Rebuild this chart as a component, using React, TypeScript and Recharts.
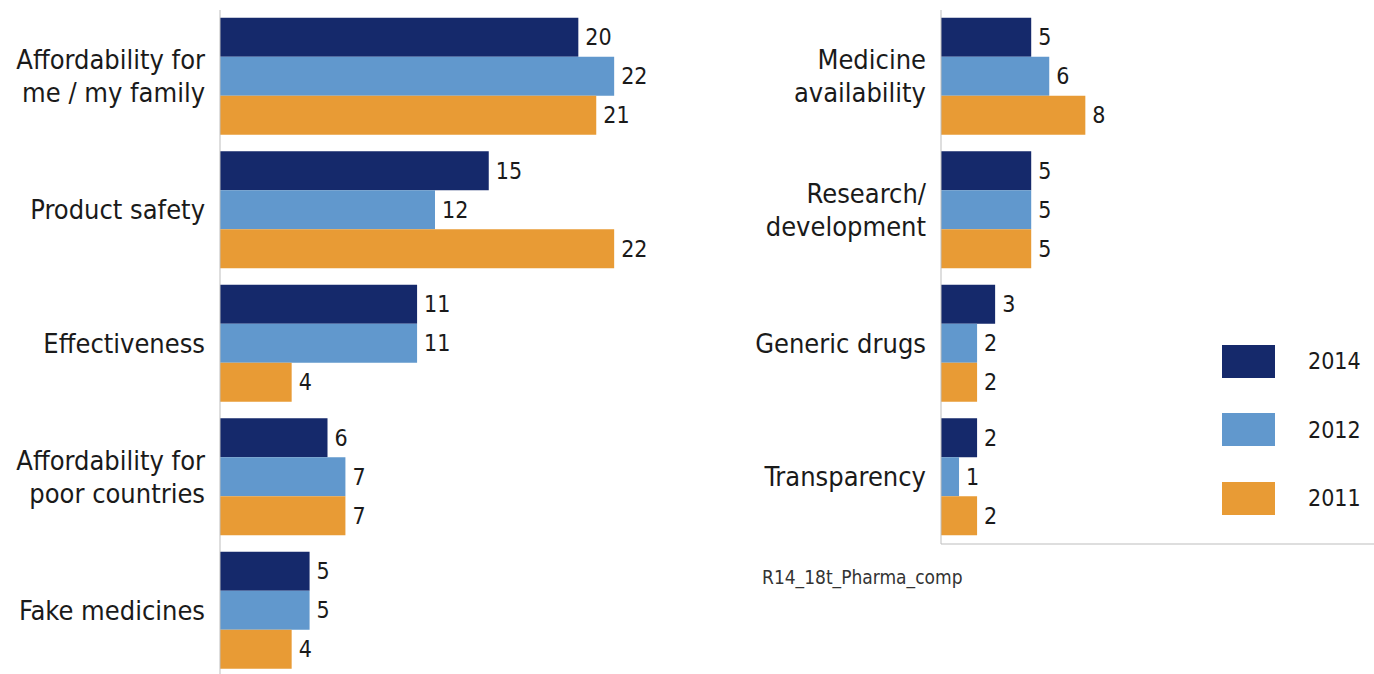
import React from 'react'
import { BarChart, Bar, XAxis, YAxis, LabelList } from 'recharts'

// left panel
const LEFT_CATEGORIES = [
  'Affordability for\nme / my family',
  'Product safety',
  'Effectiveness',
  'Affordability for\npoor countries',
  'Fake medicines',
]
const LEFT_2014 = [20, 15, 11, 6, 5]
const LEFT_2012 = [22, 12, 11, 7, 5]
const LEFT_2011 = [21, 22, 4, 7, 4]

// right panel
const RIGHT_CATEGORIES = [
  'Medicine\navailability',
  'Research/\ndevelopment',
  'Generic drugs',
  'Transparency',
]
const RIGHT_2014 = [5, 5, 3, 2]
const RIGHT_2012 = [6, 5, 2, 1]
const RIGHT_2011 = [8, 5, 2, 2]

const SERIES = [
  { key: 'y2014', label: '2014', color: '#15296b' },
  { key: 'y2012', label: '2012', color: '#6198cd' },
  { key: 'y2011', label: '2011', color: '#e89b35' },
]

const SOURCE = 'R14_18t_Pharma_comp'

const FONT = "'Liberation Sans Narrow', 'DejaVu Sans Condensed', sans-serif"
const AXIS_COLOR = '#bdbdbd'

const build = (cats: string[], a: number[], b: number[], c: number[]) =>
  cats.map((name, i) => ({ name, y2014: a[i], y2012: b[i], y2011: c[i] }))

const leftData = build(LEFT_CATEGORIES, LEFT_2014, LEFT_2012, LEFT_2011)
const rightData = build(RIGHT_CATEGORIES, RIGHT_2014, RIGHT_2012, RIGHT_2011)

function CategoryTick(props: any) {
  const { x, y, payload } = props
  const lines = String(payload.value).split('\n')
  const lh = 33
  const top = y + 9 - ((lines.length - 1) * lh) / 2
  return (
    <text x={x} y={top} textAnchor="end" fontSize={27} fill="#1a1a1a" fontFamily={FONT}>
      {lines.map((l, i) => (
        <tspan key={i} x={x} dy={i === 0 ? 0 : lh}>{l}</tspan>
      ))}
    </text>
  )
}

function YearLegend() {
  return (
    <div style={{ fontFamily: FONT }}>
      {SERIES.map(s => (
        <div key={s.key} style={{ display: 'flex', alignItems: 'center', height: 68.5 }}>
          <div style={{ width: 53, height: 33, background: s.color }} />
          <span style={{ marginLeft: 33, fontSize: 23, color: '#1a1a1a' }}>{s.label}</span>
        </div>
      ))}
    </div>
  )
}

function Bars() {
  return SERIES.map(s => (
    <Bar key={s.key} dataKey={s.key} fill={s.color} isAnimationActive={false}>
      <LabelList dataKey={s.key} position="right" offset={7} fontSize={23} fill="#1a1a1a" fontFamily={FONT} />
    </Bar>
  ))
}

export default function App() {
  return (
    <div style={{ position: 'absolute', left: 0, top: 0, width: 1374, height: 674, overflow: 'hidden', background: '#fff' }}>
      {/* left panel */}
      <div style={{ position: 'absolute', left: 0, top: 0 }}>
        <BarChart
          width={700}
          height={690}
          data={leftData}
          layout="vertical"
          margin={{ top: 10, right: 50, bottom: 12.5, left: 0 }}
          barGap={0}
          barCategoryGap={7.75}
        >
          <XAxis type="number" domain={[0, 24]} hide />
          <YAxis
            type="category"
            dataKey="name"
            width={220}
            tickLine={false}
            tickMargin={9}
            axisLine={{ stroke: AXIS_COLOR }}
            tick={<CategoryTick />}
            interval={0}
          />
          {Bars()}
        </BarChart>
      </div>

      {/* right panel */}
      <div style={{ position: 'absolute', left: 741, top: 0 }}>
        <BarChart
          width={633}
          height={560}
          data={rightData}
          layout="vertical"
          margin={{ top: 10, right: 0, bottom: 15, left: 0 }}
          barGap={0}
          barCategoryGap={7.75}
        >
          <XAxis type="number" domain={[0, 24]} tick={false} tickLine={false} height={1} axisLine={{ stroke: AXIS_COLOR }} />
          <YAxis
            type="category"
            dataKey="name"
            width={200}
            tickLine={false}
            tickMargin={9}
            axisLine={{ stroke: AXIS_COLOR }}
            tick={<CategoryTick />}
            interval={0}
          />
          {Bars()}
        </BarChart>
      </div>

      <div style={{ position: 'absolute', left: 1222, top: 327 }}>
        <YearLegend />
      </div>

      <div style={{ position: 'absolute', left: 762, top: 566, fontFamily: FONT, fontSize: 19, color: '#333' }}>
        {SOURCE}
      </div>
    </div>
  )
}
